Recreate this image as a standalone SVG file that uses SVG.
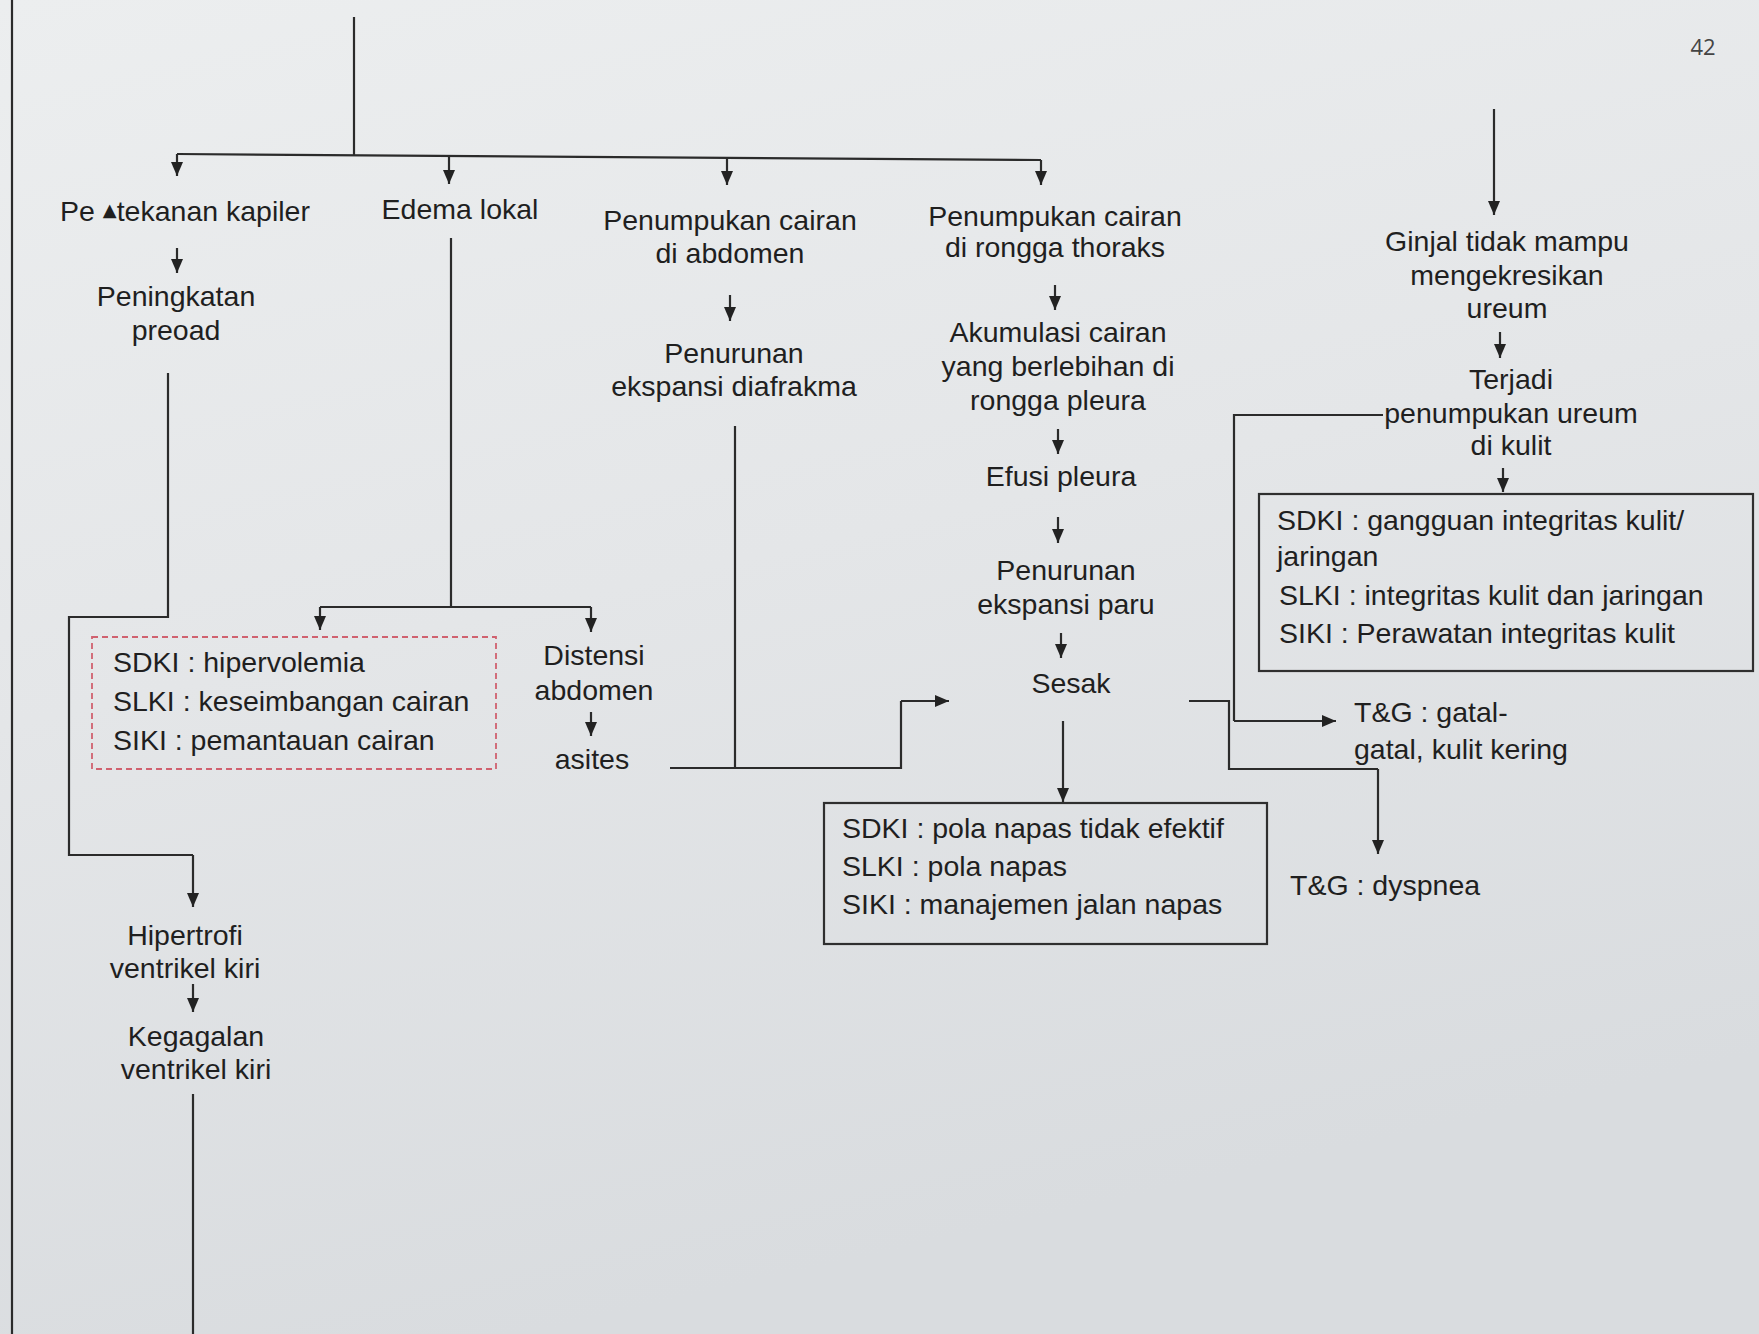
<svg xmlns="http://www.w3.org/2000/svg" width="1759" height="1334" viewBox="0 0 1759 1334">
  <defs>
    <linearGradient id="paper" x1="0" y1="0" x2="0.3" y2="1">
      <stop offset="0" stop-color="#eceeef"/>
      <stop offset="0.5" stop-color="#e4e6e8"/>
      <stop offset="1" stop-color="#d9dcdf"/>
    </linearGradient>
    <marker id="arrow" viewBox="0 0 14 12" refX="14" refY="6" markerWidth="14" markerHeight="12" markerUnits="userSpaceOnUse" orient="auto">
      <path d="M0,0 L14,6 L0,12 z" fill="#222"/>
    </marker>
    <style>
      .t { font-family: "Liberation Sans", Arial, sans-serif; font-size: 28.5px; fill: #1f1f1f; }
      .c { text-anchor: middle; }
      .ln { fill: none; stroke: #2b2b2b; stroke-width: 2.2; }
      .ar { fill: none; stroke: #2b2b2b; stroke-width: 2.2; marker-end: url(#arrow); }
      .box { fill: none; stroke: #2f2f2f; stroke-width: 2.2; }
      .dash { fill: none; stroke: #d0616f; stroke-width: 1.8; stroke-dasharray: 6 4; }
    </style>
  </defs>

  <rect x="0" y="0" width="1759" height="1334" fill="url(#paper)"/>

  <!-- page number -->
  <text x="1703" y="55" text-anchor="middle" font-family="'Open Sans', sans-serif" font-size="22" fill="#444">42</text>

  <!-- connectors -->
  <g id="connectors">
    <!-- left page border line -->
    <path class="ln" d="M12,0 L12,1334"/>
    <!-- top stem and distribution bus -->
    <path class="ln" d="M354,17 L354,155"/>
    <path class="ln" d="M177,154 L1041,160"/>
    <path class="ar" d="M177,154 L177,176"/>
    <path class="ar" d="M449,156 L449,184"/>
    <path class="ar" d="M727,158 L727,185"/>
    <path class="ar" d="M1041,160 L1041,185"/>

    <!-- left column -->
    <path class="ar" d="M177,248 L177,273"/>
    <path class="ln" d="M168,373 L168,617 L69,617 L69,855 L193,855"/>
    <path class="ar" d="M193,855 L193,907"/>
    <path class="ar" d="M193,984 L193,1012"/>
    <path class="ln" d="M193,1094 L193,1334"/>

    <!-- edema lokal branch -->
    <path class="ln" d="M451,238 L451,607"/>
    <path class="ln" d="M320,607 L591,607"/>
    <path class="ar" d="M320,607 L320,630"/>
    <path class="ar" d="M591,607 L591,632"/>
    <path class="ar" d="M591,712 L591,736"/>

    <!-- abdomen column -->
    <path class="ar" d="M730,295 L730,321"/>
    <path class="ln" d="M735,426 L735,768"/>
    <path class="ln" d="M670,768 L901,768 L901,701"/>
    <path class="ar" d="M901,701 L949,701"/>

    <!-- thorax column -->
    <path class="ar" d="M1055,285 L1055,310"/>
    <path class="ar" d="M1058,429 L1058,454"/>
    <path class="ar" d="M1058,517 L1058,543"/>
    <path class="ar" d="M1061,633 L1061,658"/>
    <path class="ar" d="M1063,721 L1063,802"/>
    <path class="ln" d="M1189,701 L1229,701 L1229,769 L1378,769"/>
    <path class="ar" d="M1378,769 L1378,854"/>

    <!-- kidney column -->
    <path class="ar" d="M1494,109 L1494,215"/>
    <path class="ar" d="M1500,332 L1500,358"/>
    <path class="ar" d="M1503,468 L1503,492"/>
    <path class="ln" d="M1383,415 L1234,415 L1234,721"/>
    <path class="ar" d="M1234,721 L1336,721"/>
  </g>

  <!-- nodes -->
  <g id="n-tekanan-kapiler">
    <text class="t c" x="185" y="221">Pe <tspan font-size="18" font-family="'DejaVu Sans', sans-serif" dy="-5">▲</tspan><tspan dy="5">tekanan kapiler</tspan></text>
  </g>
  <g id="n-edema-lokal">
    <text class="t c" x="460" y="219">Edema lokal</text>
  </g>
  <g id="n-cairan-abdomen">
    <text class="t c" x="730" y="230">Penumpukan cairan</text>
    <text class="t c" x="730" y="263">di abdomen</text>
  </g>
  <g id="n-cairan-thoraks">
    <text class="t c" x="1055" y="226">Penumpukan cairan</text>
    <text class="t c" x="1055" y="257">di rongga thoraks</text>
  </g>
  <g id="n-preload">
    <text class="t c" x="176" y="306">Peningkatan</text>
    <text class="t c" x="176" y="340">preoad</text>
  </g>
  <g id="n-diafrakma">
    <text class="t c" x="734" y="363">Penurunan</text>
    <text class="t c" x="734" y="396">ekspansi diafrakma</text>
  </g>
  <g id="n-akumulasi">
    <text class="t c" x="1058" y="342">Akumulasi cairan</text>
    <text class="t c" x="1058" y="376">yang berlebihan di</text>
    <text class="t c" x="1058" y="410">rongga pleura</text>
  </g>
  <g id="n-efusi">
    <text class="t c" x="1061" y="486">Efusi pleura</text>
  </g>
  <g id="n-paru">
    <text class="t c" x="1066" y="580">Penurunan</text>
    <text class="t c" x="1066" y="614">ekspansi paru</text>
  </g>
  <g id="n-sesak">
    <text class="t c" x="1071" y="693">Sesak</text>
  </g>
  <g id="n-dx-napas">
    <rect class="box" x="824" y="803" width="443" height="141"/>
    <text class="t" x="842" y="838">SDKI : pola napas tidak efektif</text>
    <text class="t" x="842" y="876">SLKI : pola napas</text>
    <text class="t" x="842" y="914">SIKI : manajemen jalan napas</text>
  </g>
  <g id="n-dx-hipervolemia">
    <rect class="dash" x="92" y="637" width="404" height="132"/>
    <text class="t" x="113" y="672">SDKI : hipervolemia</text>
    <text class="t" x="113" y="711">SLKI : keseimbangan cairan</text>
    <text class="t" x="113" y="750">SIKI : pemantauan cairan</text>
  </g>
  <g id="n-distensi">
    <text class="t c" x="594" y="665">Distensi</text>
    <text class="t c" x="594" y="700">abdomen</text>
  </g>
  <g id="n-asites">
    <text class="t c" x="592" y="769">asites</text>
  </g>
  <g id="n-hipertrofi">
    <text class="t c" x="185" y="945">Hipertrofi</text>
    <text class="t c" x="185" y="978">ventrikel kiri</text>
  </g>
  <g id="n-kegagalan">
    <text class="t c" x="196" y="1046">Kegagalan</text>
    <text class="t c" x="196" y="1079">ventrikel kiri</text>
  </g>
  <g id="n-dyspnea">
    <text class="t" x="1290" y="895">T&amp;G : dyspnea</text>
  </g>
  <g id="n-ginjal">
    <text class="t c" x="1507" y="251">Ginjal tidak mampu</text>
    <text class="t c" x="1507" y="285">mengekresikan</text>
    <text class="t c" x="1507" y="318">ureum</text>
  </g>
  <g id="n-ureum-kulit">
    <text class="t c" x="1511" y="389">Terjadi</text>
    <text class="t c" x="1511" y="423">penumpukan ureum</text>
    <text class="t c" x="1511" y="455">di kulit</text>
  </g>
  <g id="n-dx-kulit">
    <rect class="box" x="1259" y="494" width="494" height="177"/>
    <text class="t" x="1277" y="530">SDKI : gangguan integritas kulit/</text>
    <text class="t" x="1277" y="566">jaringan</text>
    <text class="t" x="1279" y="605">SLKI : integritas kulit dan jaringan</text>
    <text class="t" x="1279" y="643">SIKI : Perawatan integritas kulit</text>
  </g>
  <g id="n-gatal">
    <text class="t" x="1354" y="722">T&amp;G : gatal-</text>
    <text class="t" x="1354" y="759">gatal, kulit kering</text>
  </g>
</svg>
